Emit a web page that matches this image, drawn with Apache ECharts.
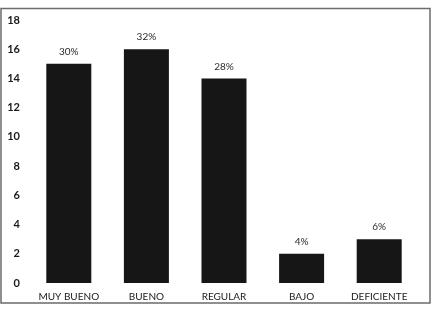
<!DOCTYPE html>
<html>
<head>
<meta charset="utf-8">
<style>html,body{margin:0;padding:0;background:#fff;}#c{width:434px;height:314px;}</style>
<script src="https://cdn.jsdelivr.net/npm/echarts@6/dist/echarts.min.js"></script>
</head>
<body>
<div id="c"></div>
<script>
var categories = ['MUY BUENO', 'BUENO', 'REGULAR', 'BAJO', 'DEFICIENTE'];
var values = [15, 16, 14, 2, 3];
var percentLabels = ['30%', '32%', '28%', '4%', '6%'];
var yTicks = [0, 2, 4, 6, 8, 10, 12, 14, 16, 18];

var chart = echarts.init(document.getElementById('c'));
chart.setOption({
  animation: false,
  graphic: [{
    type: 'rect',
    shape: { x: 1, y: 8.5, width: 429, height: 294.5 },
    style: { fill: 'none', stroke: '#6b6b6b', lineWidth: 1.5 }
  }],
  grid: { left: 30, right: 16, top: 20, bottom: 31 },
  xAxis: {
    type: 'category',
    data: categories,
    axisLine: { show: false },
    axisTick: { show: false },
    axisLabel: { interval: 0, color: '#1a1a1a', fontSize: 10, fontFamily: 'Lato, "Open Sans", sans-serif', margin: 9 }
  },
  yAxis: {
    type: 'value',
    min: yTicks[0],
    max: yTicks[yTicks.length - 1],
    interval: 2,
    splitLine: { show: false },
    axisLine: { show: false },
    axisTick: { show: false },
    axisLabel: { color: '#1a1a1a', fontSize: 11, fontWeight: 'bold', fontFamily: 'Lato, "Open Sans", sans-serif', margin: 10 }
  },
  series: [{
    type: 'bar',
    data: values,
    barWidth: '58%',
    itemStyle: { color: '#161616' },
    label: {
      show: true,
      position: 'top',
      distance: 7,
      color: '#2a2a2a',
      fontSize: 10,
      fontFamily: 'Lato, "Open Sans", sans-serif',
      formatter: function (p) { return percentLabels[p.dataIndex]; }
    }
  }]
});
</script>
</body>
</html>
